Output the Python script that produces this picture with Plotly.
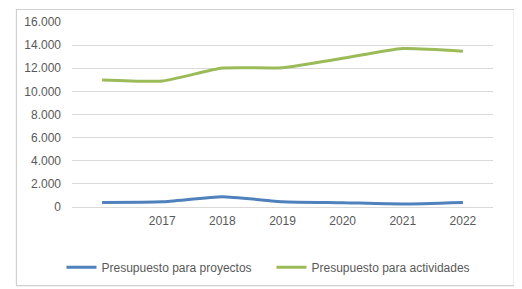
import plotly.graph_objects as go

categories = ["2016", "2017", "2018", "2019", "2020", "2021", "2022"]
tick_labels = ["", "2017", "2018", "2019", "2020", "2021", "2022"]
proyectos = [400, 450, 890, 460, 370, 260, 400]
actividades = [10990, 10900, 12020, 12050, 12860, 13700, 13470]

fig = go.Figure()
fig.add_trace(go.Scatter(x=categories, y=proyectos, mode="lines",
                         name="Presupuesto para proyectos",
                         line=dict(color="#4F81BD", width=3, shape="spline", smoothing=0.5)))
fig.add_trace(go.Scatter(x=categories, y=actividades, mode="lines",
                         name="Presupuesto para actividades",
                         line=dict(color="#9BBB59", width=3, shape="spline", smoothing=0.5)))

fig.update_layout(
    width=514, height=281,
    margin=dict(l=64, r=29, t=14, b=82, autoexpand=False),
    paper_bgcolor="white", plot_bgcolor="white",
    font=dict(family="Liberation Sans, Arial, sans-serif", size=12, color="#595959"),
    separators=",.",
    showlegend=True,
    legend=dict(orientation="h", x=-0.025, xanchor="left", y=-0.325, yanchor="middle",
                font=dict(size=12, color="#595959"),
                entrywidth=165, entrywidthmode="pixels", traceorder="normal"),
    shapes=[dict(type="rect", xref="paper", yref="paper",
                 x0=-0.132, x1=1.0505, y0=-0.425, y1=1.0675,
                 line=dict(color="#D0D0D0", width=1.2), layer="above")],
)
fig.update_xaxes(type="category", tickmode="array", tickvals=categories, ticktext=tick_labels,
                 range=[-0.5, 6.5], showgrid=False, showline=False, ticks="", ticklen=0,
                 ticklabelstandoff=5, automargin=False)
fig.update_yaxes(range=[0, 16000], tickvals=[0, 2000, 4000, 6000, 8000, 10000, 12000, 14000, 16000],
                 tickformat=",d", showgrid=True, gridcolor="#D9D9D9", gridwidth=1,
                 zeroline=True, zerolinecolor="#D9D9D9", zerolinewidth=1, ticks="",
                 ticklabelstandoff=10, automargin=False)

fig.write_html("out.html")
